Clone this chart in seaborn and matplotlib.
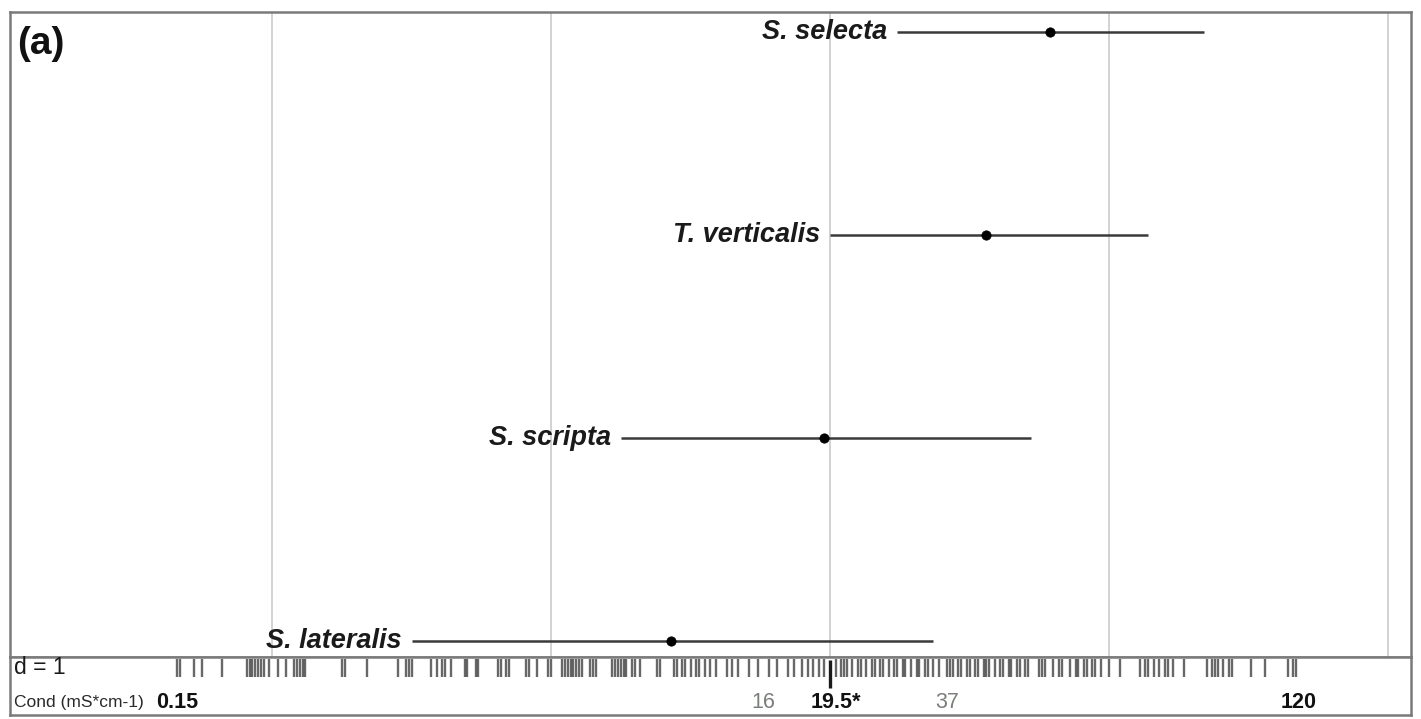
import matplotlib
matplotlib.use("Agg")
import matplotlib.pyplot as plt
import seaborn as sns
import pandas as pd

# Species positions along the conductivity gradient (gradient score units, grid step d = 1)
species = ["S. selecta", "T. verticalis", "S. scripta", "S. lateralis"]
mean_score = [0.79, 0.56, -0.02, -0.57]
low_score = [0.24, 0.00, -0.75, -1.50]
high_score = [1.34, 1.14, 0.72, 0.37]

# Sampling sites along the gradient (rug)
site_scores = [
    -2.34, -2.33, -2.28, -2.25, -2.18, -2.09, -2.08, -2.07, -2.06, -2.05, -2.04, -2.03,
    -2.01, -1.98, -1.95, -1.92, -1.91, -1.90, -1.89, -1.88, -1.75, -1.74, -1.66, -1.55,
    -1.52, -1.51, -1.50, -1.43, -1.41, -1.39, -1.38, -1.36,
    -1.31, -1.30, -1.27, -1.26, -1.19, -1.18, -1.16, -1.15, -1.09, -1.08, -1.05, -1.01,
    -1.00, -0.96, -0.95, -0.94, -0.93, -0.92, -0.91, -0.90, -0.89, -0.86, -0.85, -0.84,
    -0.78, -0.77, -0.76, -0.75, -0.74, -0.73, -0.71, -0.70, -0.68, -0.62, -0.61, -0.56,
    -0.55, -0.53, -0.52, -0.50, -0.48, -0.47, -0.45, -0.43, -0.41, -0.37, -0.35,
    -0.33, -0.29, -0.26, -0.22, -0.19, -0.15, -0.13, -0.10, -0.08, -0.06, -0.04, -0.02,
    0.02, 0.04, 0.05, 0.06, 0.08, 0.10, 0.11, 0.13, 0.15, 0.16, 0.18, 0.19, 0.21, 0.23,
    0.24, 0.26, 0.27, 0.29, 0.31, 0.32, 0.34, 0.35, 0.37, 0.39, 0.42, 0.43, 0.44, 0.46,
    0.47, 0.49, 0.50, 0.52, 0.53, 0.55, 0.56, 0.57, 0.59, 0.61, 0.62, 0.64, 0.65, 0.67,
    0.68, 0.70, 0.71, 0.75, 0.76, 0.77, 0.80, 0.82, 0.83, 0.86, 0.88, 0.89, 0.91, 0.92,
    0.94, 0.95, 0.97, 1.00, 1.04, 1.11, 1.13, 1.14, 1.16, 1.18, 1.20, 1.21, 1.23, 1.27,
    1.35, 1.37, 1.38, 1.39, 1.41, 1.43, 1.44, 1.51, 1.56, 1.64, 1.66, 1.67,
]
median_score = 0.0

# Conductivity reference values shown under the rug
cond_labels = ["0.15", "16", "19.5*", "37", "120"]
cond_label_pos = [-2.34, -0.24, 0.02, 0.42, 1.68]
cond_label_bold = [True, False, True, False, True]

grid_steps = [-2, -1, 0, 1, 2]

sns.set_style("white")
plt.rcParams["font.family"] = ["Liberation Sans", "DejaVu Sans"]

W, H = 1421, 719
fig = plt.figure(figsize=(W / 100, H / 100), dpi=100)


def rect(x0, y0, x1, y1):
    return [x0 / W, 1 - y1 / H, (x1 - x0) / W, (y1 - y0) / H]


xlim = (-2.939, 2.082)
frame_col = "#7a7a7a"

# Main panel
ax = fig.add_axes(rect(10, 12, 1411, 657))
ax.set_xlim(xlim)
ax.set_ylim(3.079, -0.0985)
for g in grid_steps:
    ax.axvline(g, color="#d2d2d2", lw=1.4, zorder=0)

df = pd.DataFrame({"species": species, "mean": mean_score,
                   "low": low_score, "high": high_score, "row": range(len(species))})
ax.hlines(df["row"], df["low"], df["high"], color="#3a3a3a", lw=1.8, zorder=2)
sns.scatterplot(data=df, x="mean", y="row", ax=ax, color="black", s=45,
                edgecolor="black", zorder=3, legend=False)
gap = 0.036
for _, r in df.iterrows():
    ax.text(r["low"] - gap, r["row"], r["species"], ha="right", va="center",
            fontsize=19.5, fontweight="bold", fontstyle="italic", color="#1a1a1a")
ax.text(0.005, 0.979, "(a)", transform=ax.transAxes, ha="left", va="top",
        fontsize=28, fontweight="bold", color="#111111")
ax.set_xticks([])
ax.set_yticks([])
ax.set_xlabel("")
ax.set_ylabel("")
for sp in ax.spines.values():
    sp.set_color(frame_col)
    sp.set_linewidth(1.8)

# Bottom strip with scale and conductivity labels
sx = fig.add_axes(rect(10, 657, 1411, 715))
sx.set_xlim(xlim)
sx.set_ylim(58, 0)
sx.set_xticks([])
sx.set_yticks([])
for sp in sx.spines.values():
    sp.set_color(frame_col)
    sp.set_linewidth(1.8)
sx.vlines([median_score], 3, 31, color="#1a1a1a", lw=2.4)
sx.text(-2.925, 10, "d = 1", ha="left", va="center", fontsize=16.5, color="#1a1a1a")
sx.text(-2.925, 45, "Cond (mS*cm-1)", ha="left", va="center", fontsize=12.5,
        color="#2a2a2a")
for lab, pos, bold in zip(cond_labels, cond_label_pos, cond_label_bold):
    sx.text(pos, 45, lab, ha="center", va="center", fontsize=15.5,
            fontweight="bold" if bold else "normal",
            color="#111111" if bold else "#7a7f7a")

# Rug of sampling sites
rx = fig.add_axes(rect(10, 659, 1411, 677))
rx.set_xlim(xlim)
rx.set_ylim(0, 1)
rx.patch.set_alpha(0)
rx.axis("off")
sns.rugplot(x=site_scores, ax=rx, height=1.0, color="#2e2e2e", linewidth=1.7, alpha=0.72)

fig.savefig("out.png", dpi=100)
